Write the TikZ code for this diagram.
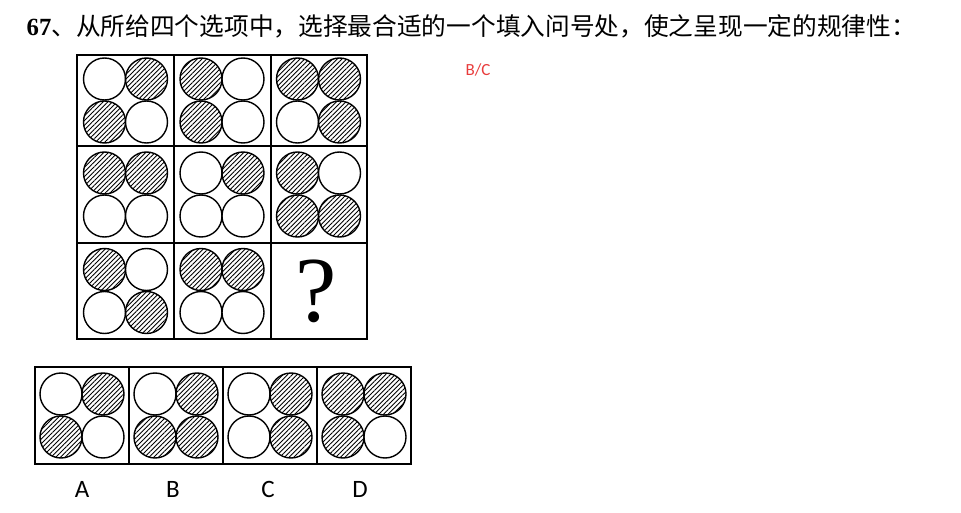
\documentclass[tikz,border=0pt]{standalone}
\usepackage{fontspec}
\newfontfamily\cjk{Noto Sans CJK SC}
\newfontfamily\numfont{Liberation Serif}
\newfontfamily\optfont{Carlito}
\usetikzlibrary{patterns.meta}
\definecolor{ansred}{RGB}{232,60,60}
\tikzset{
  ball/.style={draw=black, line width=1.4pt, fill=white},
  hatchball/.style={draw=black, line width=1.4pt,
    pattern={Lines[angle=45, distance=3.3pt, line width=0.9pt]}},
  box/.style={draw=black, line width=1.6pt},
}
\begin{document}
\begin{tikzpicture}[x=1pt, y=-1pt]
  \useasboundingbox (0,0) rectangle (961,513);
  % question
  \node[anchor=base west, inner sep=0pt] (title) at (26.5,36)
    {\fontsize{24.7}{28}\selectfont{\numfont\bfseries 67}\cjk 、从所给四个选项中，选择最合适的一个填入问号处，使之呈现一定的规律性：};
  \node[inner sep=0pt, text=ansred] (answer) at (478,70)
    {\fontsize{17}{20}\selectfont\optfont B/C};
  % 3x3 grid
  \draw[box] (77,55) rectangle (367,339);
  \draw[box] (174,55) -- (174,339);
  \draw[box] (271,55) -- (271,339);
  \draw[box] (77,146) -- (367,146);
  \draw[box] (77,243) -- (367,243);
  % cells: centre x / centre y / top left / top right / bottom left / bottom right
  \foreach \cx/\cy/\p/\q/\r/\s in {125.5/100.5/0/1/1/0, 222/100.5/1/0/1/0, 318.5/100.5/1/1/0/1,
                                   125.5/194.5/1/1/0/0, 222/194.5/0/1/0/0, 318.5/194.5/1/0/1/1,
                                   125.5/291/1/0/0/1,   222/291/1/1/0/0,
                                   82/415.5/0/1/1/0, 176/415.5/0/1/1/1, 270/415.5/0/1/0/1, 364/415.5/1/1/1/0}
    \foreach \dx/\dy/\f in {-21/-21.5/\p, 21/-21.5/\q, -21/21.5/\r, 21/21.5/\s}
      {\ifnum\f=1 \draw[hatchball] (\cx+\dx,\cy+\dy) circle (21);
       \else \draw[ball] (\cx+\dx,\cy+\dy) circle (21);\fi}
  \node[inner sep=0pt] (qmark) at (316.5,291.5) {\fontsize{93}{93}\selectfont\numfont ?};
  % options
  \draw[box] (35,367) rectangle (411,464);
  \draw[box] (129,367) -- (129,464);
  \draw[box] (223,367) -- (223,464);
  \draw[box] (317,367) -- (317,464);
  \node[anchor=base, inner sep=0pt] (optA) at (82,497.5) {\fontsize{25}{28}\selectfont\optfont A};
  \node[anchor=base, inner sep=0pt] (optB) at (173,497.5) {\fontsize{25}{28}\selectfont\optfont B};
  \node[anchor=base, inner sep=0pt] (optC) at (268,497.5) {\fontsize{25}{28}\selectfont\optfont C};
  \node[anchor=base, inner sep=0pt] (optD) at (360,497.5) {\fontsize{25}{28}\selectfont\optfont D};
\end{tikzpicture}
\end{document}
